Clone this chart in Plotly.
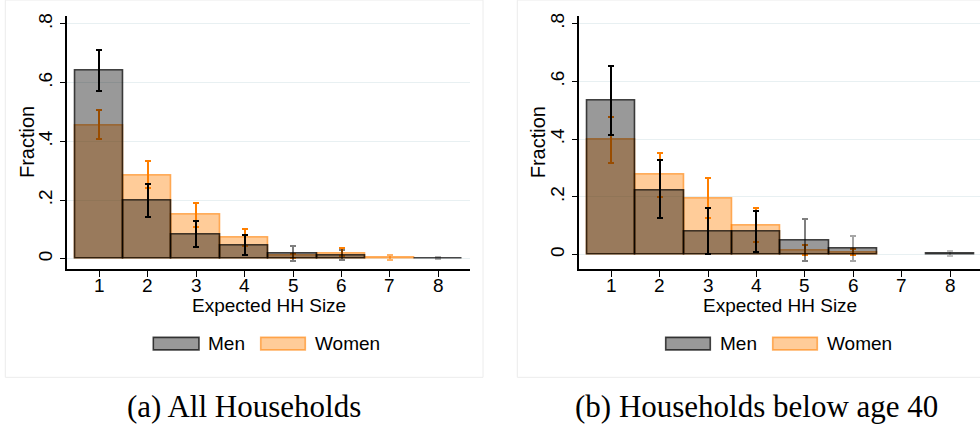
import plotly.graph_objects as go

W, H = 980, 427

sizes = [1, 2, 3, 4, 5, 6, 7, 8]
y_tick_vals = [0, 0.2, 0.4, 0.6, 0.8]
y_tick_text = ["0", ".2", ".4", ".6", ".8"]

# Panel (a): All Households
men_all = [0.642, 0.198, 0.082, 0.045, 0.017, 0.010, None, 0.002]
men_all_lo = [0.572, 0.141, 0.039, 0.012, -0.008, -0.004, None, -0.001]
men_all_hi = [0.712, 0.256, 0.129, 0.082, 0.044, 0.030, None, 0.005]
women_all = [0.455, 0.285, 0.150, 0.071, 0.011, 0.018, 0.004, None]
women_all_lo = [0.407, 0.242, 0.110, 0.043, 0.002, 0.011, -0.005, None]
women_all_hi = [0.508, 0.334, 0.189, 0.100, 0.018, 0.037, 0.014, None]

# Panel (b): Households below age 40
men_young = [0.534, 0.223, 0.080, 0.078, 0.048, 0.021, None, 0.004]
men_young_lo = [0.416, 0.125, 0.002, 0.008, -0.023, -0.023, None, -0.004]
men_young_hi = [0.654, 0.326, 0.160, 0.151, 0.122, 0.066, None, 0.012]
women_young = [0.397, 0.277, 0.194, 0.100, 0.014, 0.006, None, None]
women_young_lo = [0.317, 0.200, 0.125, 0.043, -0.003, -0.003, None, None]
women_young_hi = [0.476, 0.352, 0.266, 0.160, 0.033, 0.019, None, None]

captions = ["(a) All Households", "(b) Households below age 40"]
x_title = "Expected HH Size"
y_title = "Fraction"
series_names = ["Men", "Women"]

# ---- styles (kept separate from data) ----
MEN_FILL = "rgba(0,0,0,0.4)"
MEN_LINE = "rgba(0,0,0,0.72)"
WOMEN_FILL = "rgba(255,127,0,0.4)"
WOMEN_LINE = "rgba(255,127,0,0.6)"
ERR_ALPHA = {
    ("x", "men"): [1, 1, 1, 1, 0.5, 0.5, 0, 0.3],
    ("x", "women"): [1, 1, 1, 1, 1, 1, 0.6, 0],
    ("x2", "men"): [1, 1, 1, 1, 0.5, 0.35, 0, 0.25],
    ("x2", "women"): [1, 1, 1, 1, 1, 1, 0, 0],
}
FONT = "Liberation Sans, Arial, sans-serif"


def px(x):
    return x / W


def py(y):
    return 1 - y / H


fig = go.Figure()


def add_series(xa, ya, vals, lo, hi, fill, line, err_rgb, alphas):
    fig.add_trace(go.Bar(
        x=sizes, y=vals, width=1, xaxis=xa, yaxis=ya,
        marker=dict(color=fill, line=dict(color=line, width=1.6)),
        hoverinfo="skip", showlegend=False,
    ))
    for i, v in enumerate(vals):
        if v is None or lo[i] is None:
            continue
        a = alphas[i]
        fig.add_trace(go.Bar(
            x=[sizes[i]], y=[v], width=1, xaxis=xa, yaxis=ya,
            marker=dict(color="rgba(0,0,0,0)", line=dict(width=0)),
            error_y=dict(type="data", symmetric=False,
                         array=[hi[i] - v], arrayminus=[v - lo[i]],
                         color=f"rgba({err_rgb},{a})", thickness=2, width=3),
            hoverinfo="skip", showlegend=False,
        ))


panels = [
    ("x", "y", men_all, men_all_lo, men_all_hi, women_all, women_all_lo, women_all_hi),
    ("x2", "y2", men_young, men_young_lo, men_young_hi, women_young, women_young_lo, women_young_hi),
]
for xa, ya, m, mlo, mhi, w, wlo, whi in panels:
    add_series(xa, ya, w, wlo, whi, WOMEN_FILL, WOMEN_LINE, "255,127,0", ERR_ALPHA[(xa, "women")])
    add_series(xa, ya, m, mlo, mhi, MEN_FILL, MEN_LINE, "0,0,0", ERR_ALPHA[(xa, "men")])

axis_common = dict(showline=True, linecolor="black", linewidth=1.5, ticks="outside",
                   ticklen=6, tickwidth=1.3, tickcolor="black", zeroline=False,
                   tickfont=dict(family=FONT, size=19, color="black"), mirror=False)

y_dom = [py(268.3), py(12.7)]
fig.update_layout(
    width=W, height=H, margin=dict(l=0, r=0, t=0, b=0),
    paper_bgcolor="white", plot_bgcolor="white",
    barmode="overlay", bargap=0, showlegend=False,
    xaxis=dict(domain=[px(67.3), px(470)], range=[0.345, 8.65], tickvals=sizes,
               showgrid=False, anchor="y", showticklabels=False, **axis_common),
    yaxis=dict(domain=y_dom, range=[-0.036, 0.828], tickvals=y_tick_vals,
               ticktext=y_tick_text, tickangle=-90, showgrid=True,
               gridcolor="#e8f0f2", gridwidth=1, anchor="x", **axis_common),
    xaxis2=dict(domain=[px(579.3), 1.0], range=[0.34, 8.62], tickvals=sizes,
                showgrid=False, anchor="y2", showticklabels=False, **axis_common),
    yaxis2=dict(domain=y_dom, range=[-0.0515, 0.828], tickvals=y_tick_vals,
                ticktext=y_tick_text, tickangle=-90, showgrid=True,
                gridcolor="#e8f0f2", gridwidth=1, anchor="x2", **axis_common),
)

shapes = []
annotations = []

# x tick labels placed at data positions (closer to the axis than Plotly's default)
for xref in ["x", "x2"]:
    for s in sizes:
        annotations.append(dict(text=str(s), xref=xref, yref="paper", x=s, y=py(284),
                                showarrow=False, xanchor="center", yanchor="middle",
                                font=dict(family=FONT, size=19, color="black")))

# panel frames
for x0, x1 in [(5.3, 483), (517.3, 990)]:
    shapes.append(dict(type="rect", xref="paper", yref="paper",
                       x0=px(x0), x1=px(x1), y0=py(377), y1=py(-3),
                       line=dict(color="#ececec", width=1), fillcolor="rgba(0,0,0,0)",
                       layer="below"))

# axis titles
for xt_c, yt_x in [(268.5, 27), (780, 538.3)]:
    annotations.append(dict(text=x_title, xref="paper", yref="paper", x=px(xt_c), y=py(305),
                            showarrow=False, xanchor="center", yanchor="middle",
                            font=dict(family=FONT, size=19, color="black")))
    annotations.append(dict(text=y_title, xref="paper", yref="paper", x=px(yt_x), y=py(140),
                            textangle=-90, showarrow=False, xanchor="center", yanchor="middle",
                            font=dict(family=FONT, size=20, color="black")))

# legends
legend_pos = [
    [(153.3, 199.0, 206.0), (260.7, 305.3, 313.3)],
    [(665.7, 710.3, 718.3), (772.7, 817.3, 825.0)],
]
legend_styles = [(MEN_FILL, MEN_LINE), (WOMEN_FILL, WOMEN_LINE)]
for panel in legend_pos:
    for (sx0, sx1, tx), name, (fc, lc) in zip(panel, series_names, legend_styles):
        shapes.append(dict(type="rect", xref="paper", yref="paper",
                           x0=px(sx0), x1=px(sx1), y0=py(349.3), y1=py(336.7),
                           fillcolor=fc, line=dict(color=lc, width=1.6)))
        annotations.append(dict(text=name, xref="paper", yref="paper", x=px(tx), y=py(343),
                                showarrow=False, xanchor="left", yanchor="middle",
                                font=dict(family=FONT, size=19, color="black")))

# captions
for cx, cap in zip([244, 756], captions):
    annotations.append(dict(text=cap, xref="paper", yref="paper", x=px(cx), y=py(406),
                            showarrow=False, xanchor="center", yanchor="middle",
                            font=dict(family="Liberation Serif, Times New Roman, serif",
                                      size=31, color="black")))

fig.update_layout(shapes=shapes, annotations=annotations)
fig.write_html("out.html")
